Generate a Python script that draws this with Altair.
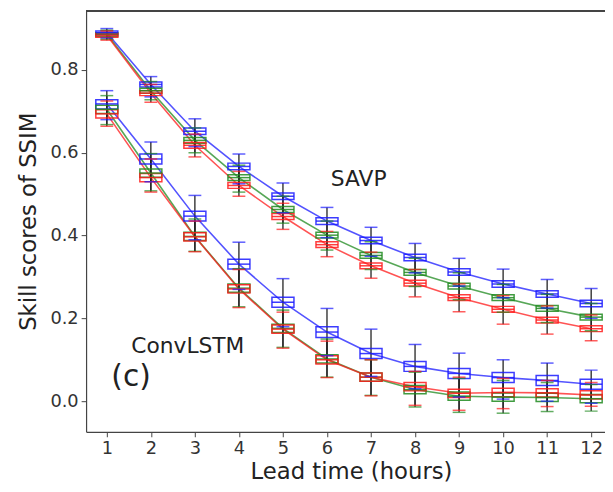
import altair as alt
import pandas as pd

lead = list(range(1, 13))

# SAVP
savp_blue_med = [0.890, 0.765, 0.652, 0.567, 0.495, 0.435, 0.388, 0.347, 0.312, 0.283, 0.259, 0.236]
savp_blue_q1  = [0.885, 0.759, 0.644, 0.559, 0.487, 0.427, 0.380, 0.339, 0.304, 0.275, 0.251, 0.228]
savp_blue_q3  = [0.894, 0.771, 0.660, 0.575, 0.503, 0.443, 0.396, 0.355, 0.320, 0.291, 0.267, 0.244]
savp_blue_lo  = [0.877, 0.735, 0.615, 0.525, 0.455, 0.395, 0.350, 0.310, 0.278, 0.250, 0.225, 0.200]
savp_blue_hi  = [0.900, 0.784, 0.682, 0.597, 0.527, 0.468, 0.420, 0.381, 0.345, 0.319, 0.294, 0.272]

savp_green_med = [0.886, 0.750, 0.630, 0.540, 0.463, 0.401, 0.352, 0.311, 0.278, 0.250, 0.224, 0.203]
savp_green_q1  = [0.881, 0.744, 0.623, 0.533, 0.456, 0.394, 0.345, 0.304, 0.271, 0.243, 0.217, 0.196]
savp_green_q3  = [0.890, 0.756, 0.637, 0.547, 0.470, 0.408, 0.359, 0.318, 0.285, 0.257, 0.231, 0.210]
savp_green_lo  = [0.874, 0.728, 0.600, 0.505, 0.430, 0.365, 0.318, 0.277, 0.245, 0.215, 0.190, 0.170]
savp_green_hi  = [0.896, 0.772, 0.660, 0.570, 0.495, 0.435, 0.385, 0.345, 0.310, 0.282, 0.258, 0.236]

savp_red_med = [0.884, 0.744, 0.618, 0.521, 0.446, 0.378, 0.327, 0.285, 0.250, 0.222, 0.196, 0.175]
savp_red_q1  = [0.879, 0.738, 0.611, 0.514, 0.439, 0.371, 0.320, 0.278, 0.243, 0.215, 0.189, 0.168]
savp_red_q3  = [0.888, 0.750, 0.625, 0.528, 0.453, 0.385, 0.334, 0.292, 0.257, 0.229, 0.203, 0.182]
savp_red_lo  = [0.872, 0.722, 0.590, 0.495, 0.415, 0.349, 0.297, 0.252, 0.216, 0.186, 0.162, 0.146]
savp_red_hi  = [0.894, 0.765, 0.645, 0.555, 0.478, 0.410, 0.360, 0.318, 0.283, 0.255, 0.230, 0.208]

# ConvLSTM
conv_blue_med = [0.718, 0.585, 0.447, 0.331, 0.239, 0.167, 0.115, 0.084, 0.067, 0.057, 0.050, 0.041]
conv_blue_q1  = [0.706, 0.573, 0.435, 0.319, 0.227, 0.154, 0.103, 0.072, 0.055, 0.045, 0.038, 0.029]
conv_blue_q3  = [0.728, 0.597, 0.459, 0.343, 0.251, 0.180, 0.127, 0.096, 0.079, 0.069, 0.062, 0.053]
conv_blue_lo  = [0.680, 0.530, 0.390, 0.270, 0.180, 0.110, 0.060, 0.030, 0.010, 0.005, 0.000, -0.005]
conv_blue_hi  = [0.750, 0.626, 0.497, 0.384, 0.296, 0.224, 0.174, 0.137, 0.116, 0.100, 0.092, 0.075]

conv_green_med = [0.705, 0.551, 0.398, 0.273, 0.176, 0.102, 0.058, 0.028, 0.012, 0.010, 0.009, 0.006]
conv_green_q1  = [0.695, 0.541, 0.388, 0.263, 0.166, 0.092, 0.048, 0.018, 0.002, 0.000, -0.001, -0.004]
conv_green_q3  = [0.715, 0.561, 0.408, 0.283, 0.186, 0.112, 0.068, 0.038, 0.022, 0.020, 0.019, 0.016]
conv_green_lo  = [0.668, 0.508, 0.362, 0.228, 0.130, 0.058, 0.014, -0.014, -0.027, -0.029, -0.025, -0.024]
conv_green_hi  = [0.738, 0.598, 0.440, 0.320, 0.220, 0.150, 0.100, 0.070, 0.055, 0.050, 0.045, 0.040]

conv_red_med = [0.694, 0.540, 0.397, 0.271, 0.174, 0.100, 0.058, 0.035, 0.019, 0.021, 0.020, 0.015]
conv_red_q1  = [0.684, 0.530, 0.387, 0.261, 0.164, 0.090, 0.048, 0.025, 0.009, 0.011, 0.010, 0.005]
conv_red_q3  = [0.704, 0.550, 0.407, 0.281, 0.184, 0.110, 0.068, 0.045, 0.029, 0.031, 0.030, 0.025]
conv_red_lo  = [0.664, 0.505, 0.361, 0.226, 0.128, 0.057, 0.013, -0.010, -0.022, -0.018, -0.013, -0.012]
conv_red_hi  = [0.725, 0.585, 0.435, 0.318, 0.215, 0.145, 0.100, 0.072, 0.058, 0.055, 0.050, 0.045]

series = [
    ("SAVP", "blue", savp_blue_lo, savp_blue_q1, savp_blue_med, savp_blue_q3, savp_blue_hi),
    ("SAVP", "green", savp_green_lo, savp_green_q1, savp_green_med, savp_green_q3, savp_green_hi),
    ("SAVP", "red", savp_red_lo, savp_red_q1, savp_red_med, savp_red_q3, savp_red_hi),
    ("ConvLSTM", "blue", conv_blue_lo, conv_blue_q1, conv_blue_med, conv_blue_q3, conv_blue_hi),
    ("ConvLSTM", "green", conv_green_lo, conv_green_q1, conv_green_med, conv_green_q3, conv_green_hi),
    ("ConvLSTM", "red", conv_red_lo, conv_red_q1, conv_red_med, conv_red_q3, conv_red_hi),
]

rows = []
for model, col, lo, q1, med, q3, hi in series:
    for i, t in enumerate(lead):
        rows.append(dict(model=model, c=col, key=model + "-" + col, t=t,
                         lo=lo[i], q1=q1[i], med=med[i], q3=q3[i], hi=hi[i]))
df = pd.DataFrame(rows)

label_text = ["SAVP", "ConvLSTM", "(c)"]
label_x = [6.72, 2.84, 1.55]
label_y = [0.537, 0.134, 0.058]
label_size = [22, 22, 30]
labels_df = pd.DataFrame({"text": label_text, "x": label_x, "y": label_y, "size": label_size})

W, H = 525, 426
xs = alt.Scale(domain=[0.529, 12.314], nice=False, zero=False)
ys = alt.Scale(domain=[-0.074, 0.943], nice=False, zero=False)
cs = alt.Scale(domain=["blue", "green", "red"], range=["#1a1aff", "#1f8a1f", "#ff1a1a"])

FONT = "DejaVu Sans"

base = alt.Chart(df)

xenc = alt.X("t:Q", scale=xs,
             axis=alt.Axis(values=lead, format="d", title="Lead time (hours)",
                           titleX=268, titleY=40, titleBaseline="middle"))
yenc = alt.Y("med:Q", scale=ys,
             axis=alt.Axis(values=[0.0, 0.2, 0.4, 0.6, 0.8], format=".1f",
                           title="Skill scores of SSIM", titleX=-58, titleBaseline="middle"))

lines = base.mark_line(strokeWidth=1.6, opacity=0.75).encode(
    x=xenc, y=yenc,
    color=alt.Color("c:N", scale=cs, legend=None),
    detail="key:N",
)

whisk = base.mark_rule(color="#222", strokeWidth=1.3).encode(
    x=alt.X("t:Q", scale=xs), y=alt.Y("lo:Q", scale=ys), y2="hi:Q"
)

boxes = base.transform_calculate(xl="datum.t - 0.25", xr="datum.t + 0.25").mark_rect(
    fillOpacity=0, strokeWidth=1.5, strokeOpacity=0.85
).encode(
    x=alt.X("xl:Q", scale=xs), x2="xr:Q",
    y=alt.Y("q1:Q", scale=ys), y2="q3:Q",
    stroke=alt.Color("c:N", scale=cs, legend=None),
)

medians = base.transform_calculate(xl="datum.t - 0.25", xr="datum.t + 0.25").mark_rule(
    strokeWidth=1.5, opacity=0.85
).encode(
    x=alt.X("xl:Q", scale=xs), x2="xr:Q",
    y=alt.Y("med:Q", scale=ys),
    color=alt.Color("c:N", scale=cs, legend=None),
)

caps_lo = base.mark_tick(orient="horizontal", size=13, thickness=1.5).encode(
    x=alt.X("t:Q", scale=xs), y=alt.Y("lo:Q", scale=ys),
    color=alt.Color("c:N", scale=cs, legend=None),
)
caps_hi = base.mark_tick(orient="horizontal", size=13, thickness=1.5).encode(
    x=alt.X("t:Q", scale=xs), y=alt.Y("hi:Q", scale=ys),
    color=alt.Color("c:N", scale=cs, legend=None),
)

texts = alt.Chart(labels_df).mark_text(font=FONT, color="#222", align="center", baseline="middle").encode(
    x=alt.X("x:Q", scale=xs), y=alt.Y("y:Q", scale=ys), text="text:N",
    size=alt.Size("size:Q", scale=None, legend=None),
)

topline = base.mark_rule(color="#444", strokeWidth=1.2).encode(
    x=alt.value(0), x2=alt.value(W), y=alt.value(0)
)

chart = alt.layer(lines, whisk, boxes, medians, caps_lo, caps_hi, texts, topline).properties(
    width=W, height=H,
    autosize=alt.AutoSizeParams(type="none"),
    padding={"left": 79, "top": 0, "right": 0, "bottom": 50},
).configure_view(stroke=None).configure_axis(
    grid=False, labelFont=FONT, titleFont=FONT, labelFontSize=18, titleFontSize=23,
    titleFontWeight="normal", labelColor="#333", titleColor="#222",
    domainColor="#444", tickColor="#444", tickSize=5, domainWidth=1.2,
    labelPadding=3,
)

chart.save("out.html", embed_options={"renderer": "svg", "actions": False})
